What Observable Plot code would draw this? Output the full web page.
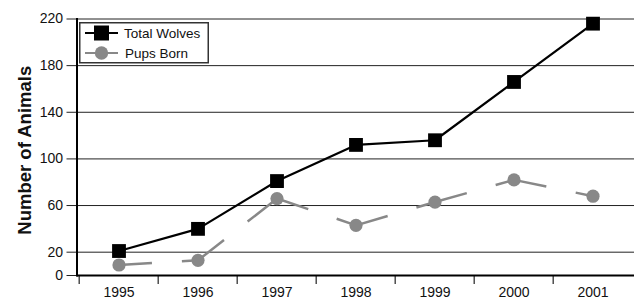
<!DOCTYPE html>
<html>
<head>
<meta charset="utf-8">
<script src="https://cdn.jsdelivr.net/npm/d3@7"></script>
<script src="https://cdn.jsdelivr.net/npm/@observablehq/plot@0.6"></script>
<style>
  html, body { margin: 0; padding: 0; background: #fff; }
  #wrap { position: relative; width: 634px; height: 303px; font-family: "Liberation Sans", Arial, sans-serif; }
  #legend { position: absolute; left: 79px; top: 22px; }
</style>
</head>
<body>
<div id="wrap"></div>
<script>
// ---- data ----
const years = ["1995", "1996", "1997", "1998", "1999", "2000", "2001"];
const totalWolves = [21, 40, 81, 112, 116, 166, 216];
const pupsBorn = [9, 13, 66, 43, 63, 82, 68];
const yTicks = [0, 20, 60, 100, 140, 180, 220];
const gridTicks = [20, 60, 100, 140, 180, 220];
const seriesNames = ["Total Wolves", "Pups Born"];
const yTitle = "Number of Animals";

// ---- layout ----
const W = 634, H = 303;
const mL = 76.5, mR = 0, mT = 18.5, mB = 28;
const bw = (W - mL - mR) / years.length;
const wolfColor = "#000";
const pupColor = "#888";
const font = "Liberation Sans, Arial, sans-serif";

const wolves = years.map((y, i) => ({year: y, value: totalWolves[i]}));
const pups = years.map((y, i) => ({year: y, value: pupsBorn[i]}));
const pupSegs = pups.slice(1).map((d, i) => ({x1: pups[i].year, y1: pups[i].value, x2: d.year, y2: d.value}));

const chart = Plot.plot({
  width: W, height: H,
  marginLeft: mL, marginRight: mR, marginTop: mT, marginBottom: mB,
  style: {fontFamily: font, fontSize: "14px", color: "#111", background: "white"},
  x: {type: "band", domain: years, padding: 0, axis: null},
  y: {domain: [0, 220], axis: null},
  marks: [
    Plot.gridY(gridTicks, {stroke: "#222", strokeOpacity: 1, strokeWidth: 1}),
    Plot.axisY(yTicks, {tickSize: 10, tickPadding: 4, fontSize: 14, stroke: "#222", label: null, fill: "#111"}),
    Plot.axisX({tickSize: 9, text: null, dx: -bw / 2, stroke: "#222", strokeWidth: 1.2, label: null}),
    Plot.axisX({tickSize: 0, tickPadding: 12, fontSize: 14, label: null, fill: "#111"}),
    Plot.ruleY([0], {stroke: "#000", strokeWidth: 2}),
    Plot.frame({anchor: "left", stroke: "#000", strokeWidth: 2}),
    Plot.text([yTitle], {frameAnchor: "left", rotate: -90, dx: -46.5, dy: 3, lineAnchor: "bottom", textAnchor: "middle", fontSize: 18.5, fontWeight: "bold", fill: "#111"}),
    Plot.line(wolves, {x: "year", y: "value", stroke: wolfColor, strokeWidth: 2.2}),
    Plot.dot(wolves, {x: "year", y: "value", symbol: "square", r: 7.8, fill: wolfColor, stroke: "none"}),
    Plot.link(pupSegs, {x1: "x1", y1: "y1", x2: "x2", y2: "y2", stroke: pupColor, strokeWidth: 2.5, strokeDasharray: "33,30", strokeLinecap: "butt"}),
    Plot.dot(pups, {x: "year", y: "value", symbol: "circle", r: 6.6, fill: pupColor, stroke: "none"})
  ]
});
document.getElementById("wrap").appendChild(chart);

// ---- legend (overlay) ----
const lg = d3.select("#wrap").append("svg").attr("id", "legend")
  .attr("width", 130).attr("height", 42);
lg.append("rect").attr("x", 0.75).attr("y", 0.75).attr("width", 128.5).attr("height", 40)
  .attr("fill", "white").attr("stroke", "#333").attr("stroke-width", 1.5);
const items = [
  {name: seriesNames[0], color: wolfColor, sym: d3.symbolSquare, size: 225},
  {name: seriesNames[1], color: pupColor, sym: d3.symbolCircle, size: 140}
];
items.forEach((it, i) => {
  const cy = 11 + i * 20;
  lg.append("line").attr("x1", 6).attr("x2", 39).attr("y1", cy).attr("y2", cy)
    .attr("stroke", it.color).attr("stroke-width", 2.2);
  lg.append("path").attr("d", d3.symbol(it.sym, it.size)()).attr("transform", `translate(22.5,${cy})`)
    .attr("fill", it.color);
  lg.append("text").attr("x", 45 + i * 1).attr("y", cy).attr("dy", "0.35em")
    .attr("font-family", font).attr("font-size", 13.5).attr("fill", "#111").text(it.name);
});
</script>
</body>
</html>
